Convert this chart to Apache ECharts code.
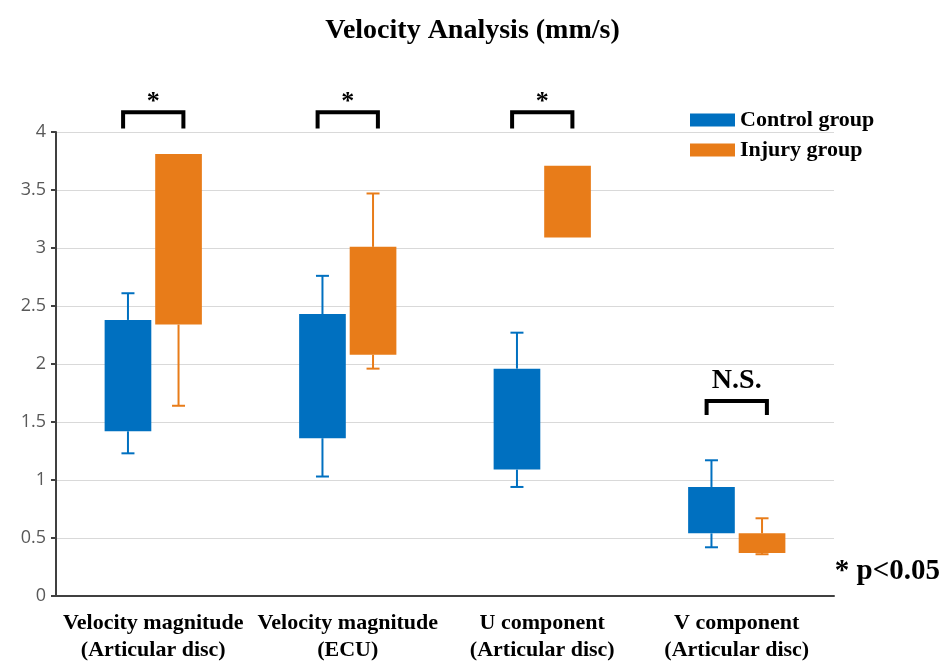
<!DOCTYPE html>
<html>
<head>
<meta charset="utf-8">
<script src="https://cdn.jsdelivr.net/npm/echarts@6/dist/echarts.min.js"></script>
<style>html,body{margin:0;padding:0;background:#fff}#c{width:945px;height:664px}</style>
</head>
<body>
<div id="c"></div>
<script>
var categories = ['Velocity magnitude\n(Articular disc)', 'Velocity magnitude\n(ECU)', 'U component\n(Articular disc)', 'V component\n(Articular disc)'];
var yTicks = [0, 0.5, 1, 1.5, 2, 2.5, 3, 3.5, 4];
// Control group: box bottom/top, whisker low/high
var controlBoxLow  = [1.42, 1.36, 1.09, 0.54];
var controlBoxHigh = [2.38, 2.43, 1.96, 0.94];
var controlWhiskLow  = [1.23, 1.03, 0.94, 0.42];
var controlWhiskHigh = [2.61, 2.76, 2.27, 1.17];
// Injury group
var injuryBoxLow  = [2.34, 2.08, 3.09, 0.37];
var injuryBoxHigh = [3.81, 3.01, 3.71, 0.54];
var injuryWhiskLow  = [1.64, 1.96, null, 0.36];
var injuryWhiskHigh = [null, 3.47, null, 0.67];
// Significance brackets
var sigTop = [4.17, 4.17, 4.17, 1.68];
var sigLeg = [4.03, 4.03, 4.03, 1.56];
var sigText = ['*', '*', '*', 'N.S.'];

var BLUE = '#0070c0', ORANGE = '#e87c19';
var SERIF = '"Liberation Serif","Times New Roman",serif';

function boxData(lo, hi, wl, wh) {
  return lo.map(function (v, i) { return [i, lo[i], hi[i], wl[i] == null ? '-' : wl[i], wh[i] == null ? '-' : wh[i]]; });
}
function makeRender(side, color) {
  return function (params, api) {
    var cat = api.value(0);
    var band = api.size([1, 0])[0];
    var off = side * band * 0.13;
    var w = band * 0.24;
    var pLo = api.coord([cat, api.value(1)]);
    var pHi = api.coord([cat, api.value(2)]);
    var cx = pLo[0] + off;
    var children = [];
    var capW = 13;
    var wl = api.value(3), wh = api.value(4);
    var ls = { stroke: color, lineWidth: 2 };
    if (!isNaN(wl) && wl !== '-' ) {
      var pwl = api.coord([cat, wl]);
      children.push({ type: 'line', shape: { x1: cx, y1: pLo[1], x2: cx, y2: pwl[1] }, style: ls });
      children.push({ type: 'line', shape: { x1: cx - capW / 2, y1: pwl[1], x2: cx + capW / 2, y2: pwl[1] }, style: ls });
    }
    if (!isNaN(wh) && wh !== '-') {
      var pwh = api.coord([cat, wh]);
      children.push({ type: 'line', shape: { x1: cx, y1: pHi[1], x2: cx, y2: pwh[1] }, style: ls });
      children.push({ type: 'line', shape: { x1: cx - capW / 2, y1: pwh[1], x2: cx + capW / 2, y2: pwh[1] }, style: ls });
    }
    children.push({ type: 'rect', shape: { x: cx - w / 2, y: pHi[1], width: w, height: pLo[1] - pHi[1] }, style: { fill: color } });
    return { type: 'group', children: children };
  };
}

var sigData = sigTop.map(function (v, i) { return [i, sigTop[i], sigLeg[i], sigText[i]]; });

var chart = echarts.init(document.getElementById('c'));
chart.setOption({
  backgroundColor: '#fff',
  animation: false,
  title: {
    text: 'Velocity Analysis (mm/s)', left: 'center', top: 12,
    textStyle: { fontFamily: SERIF, fontWeight: 'bold', fontSize: 28, color: '#000' }
  },
  legend: {
    orient: 'vertical', left: 685, top: 104, itemWidth: 45, itemHeight: 13, itemGap: 8,
    icon: 'rect',
    data: ['Control group', 'Injury group'],
    textStyle: { fontFamily: SERIF, fontWeight: 'bold', fontSize: 22, color: '#000' }
  },
  grid: { left: 56, right: 111, top: 132, bottom: 67 },
  xAxis: {
    type: 'category', data: categories,
    axisLine: { show: true, lineStyle: { color: '#404040', width: 2 } },
    axisTick: { show: false },
    axisLabel: { interval: 0, margin: 14, fontFamily: SERIF, fontWeight: 'bold', fontSize: 22, lineHeight: 27, color: '#000' }
  },
  yAxis: {
    type: 'value', min: 0, max: 4, interval: 0.5,
    axisLine: { show: true, lineStyle: { color: '#404040', width: 2 } },
    axisTick: { show: true, length: 5, lineStyle: { color: '#404040', width: 2 } },
    axisLabel: { fontFamily: '"Open Sans","Noto Sans",sans-serif', fontSize: 18, color: '#595959', margin: 10,
      formatter: function (v) { return yTicks.indexOf(v) >= 0 ? String(v) : ''; } },
    splitLine: { lineStyle: { color: '#d9d9d9', width: 1 } }
  },
  graphic: [{
    type: 'text', right: 5, top: 557,
    style: { text: '* p<0.05', font: 'bold 29px ' + SERIF, fill: '#000' }
  }],
  series: [
    {
      name: 'Control group', type: 'custom', itemStyle: { color: BLUE },
      encode: { x: 0, y: [1, 2, 3, 4] },
      renderItem: makeRender(-1, BLUE),
      data: boxData(controlBoxLow, controlBoxHigh, controlWhiskLow, controlWhiskHigh)
    },
    {
      name: 'Injury group', type: 'custom', itemStyle: { color: ORANGE },
      encode: { x: 0, y: [1, 2, 3, 4] },
      renderItem: makeRender(1, ORANGE),
      data: boxData(injuryBoxLow, injuryBoxHigh, injuryWhiskLow, injuryWhiskHigh)
    },
    {
      name: 'sig', type: 'custom', clip: false, silent: true,
      encode: { x: 0, y: [1, 2] },
      renderItem: function (params, api) {
        var cat = api.value(0);
        var band = api.size([1, 0])[0];
        var half = band * 0.155;
        var pT = api.coord([cat, api.value(1)]);
        var pL = api.coord([cat, api.value(2)]);
        var cx = pT[0];
        var txt = sigText[params.dataIndex];
        var isStar = txt === '*';
        return {
          type: 'group', children: [
            { type: 'polyline', shape: { points: [[cx - half, pL[1]], [cx - half, pT[1]], [cx + half, pT[1]], [cx + half, pL[1]]] },
              style: { stroke: '#000', lineWidth: 4, fill: null } },
            { type: 'text', style: { text: txt, x: cx, y: pT[1] + (isStar ? 3 : -6), align: 'center', verticalAlign: 'bottom',
                font: 'bold ' + (isStar ? 26 : 28) + 'px ' + SERIF, fill: '#000' } }
          ]
        };
      },
      data: sigData
    }
  ]
});
</script>
</body>
</html>
